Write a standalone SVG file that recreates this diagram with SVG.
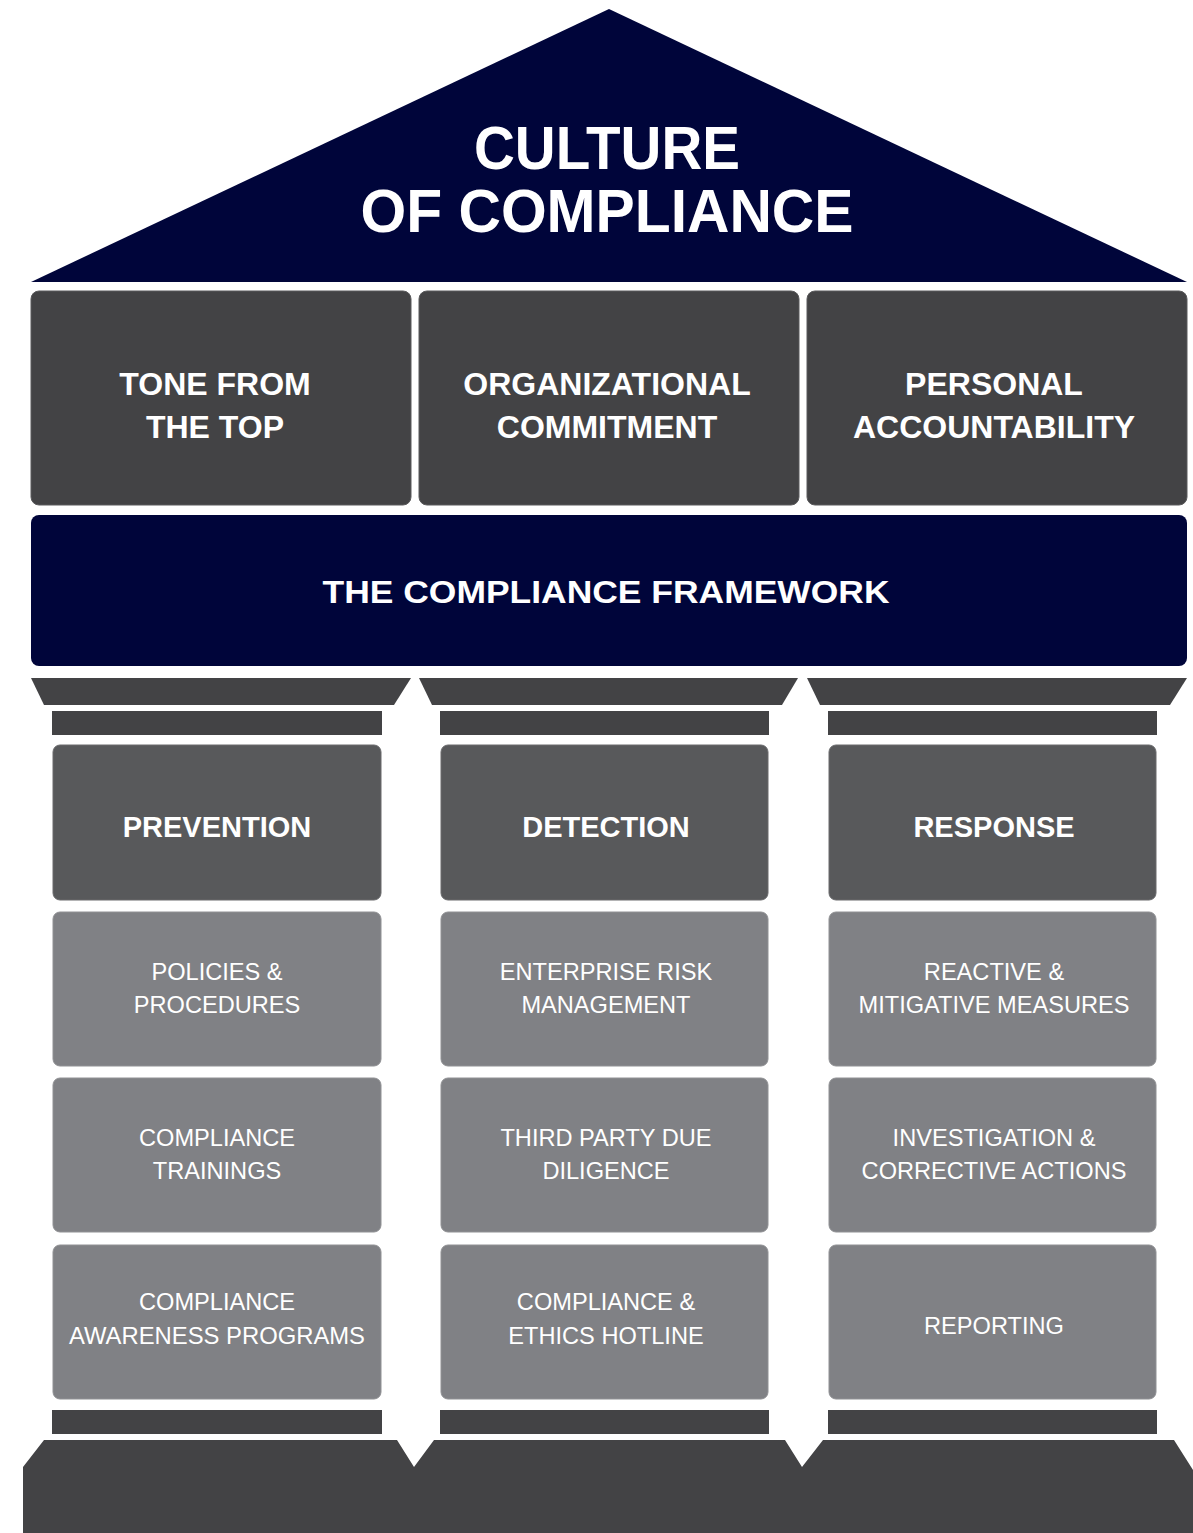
<svg xmlns="http://www.w3.org/2000/svg" width="1193" height="1533" viewBox="0 0 1193 1533">
<style>
.navy{fill:#00053a}
.dark{fill:#434345}
.hdr{fill:#58595b;stroke:#6a6b6d;stroke-width:1}
.lite{fill:#808185;stroke:#909194;stroke-width:1}
.top{fill:#434345;stroke:#5a5a5c;stroke-width:1}
text{font-family:"Liberation Sans",Arial,sans-serif;fill:#ffffff;text-anchor:middle}
.title{font-weight:bold;font-size:62px}
.bold32{font-weight:bold;font-size:32px}
.bold30{font-weight:bold;font-size:29px}
.reg{font-size:23.6px}
</style>
<rect width="1193" height="1533" fill="#ffffff"/>
<g id="roof">
<polygon class="navy" points="609,9 1187,282 31,282"/>
<text class="title" x="607" y="169" textLength="266" lengthAdjust="spacingAndGlyphs">CULTURE</text>
<text class="title" x="607" y="232" textLength="493" lengthAdjust="spacingAndGlyphs">OF COMPLIANCE</text>
</g>
<g id="tone">
<rect class="top" x="31" y="291" width="380" height="214" rx="8"/>
<text class="bold32" x="215" y="395">TONE FROM</text>
<text class="bold32" x="215" y="438">THE TOP</text>
</g>
<g id="org">
<rect class="top" x="419" y="291" width="380" height="214" rx="8"/>
<text class="bold32" x="607" y="395">ORGANIZATIONAL</text>
<text class="bold32" x="607" y="438">COMMITMENT</text>
</g>
<g id="personal">
<rect class="top" x="807" y="291" width="380" height="214" rx="8"/>
<text class="bold32" x="994" y="395">PERSONAL</text>
<text class="bold32" x="994" y="438">ACCOUNTABILITY</text>
</g>
<g id="framework">
<rect class="navy" x="31" y="515" width="1156" height="151" rx="8"/>
<text class="bold32" x="606" y="603" textLength="567" lengthAdjust="spacingAndGlyphs">THE COMPLIANCE FRAMEWORK</text>
</g>
<g id="capitals">
<polygon class="dark" points="31,678 411,678 394,705 44,705"/>
<polygon class="dark" points="419,678 798,678 782,705 432,705"/>
<polygon class="dark" points="807,678 1187,678 1170,705 820,705"/>
<rect class="dark" x="52" y="711" width="330" height="24"/>
<rect class="dark" x="440" y="711" width="329" height="24"/>
<rect class="dark" x="828" y="711" width="329" height="24"/>
</g>
<g id="prevention">
<rect class="hdr" x="53" y="745" width="328" height="155" rx="7"/>
<text class="bold30" x="217" y="837">PREVENTION</text>
</g>
<g id="detection">
<rect class="hdr" x="441" y="745" width="327" height="155" rx="7"/>
<text class="bold30" x="606" y="837">DETECTION</text>
</g>
<g id="response">
<rect class="hdr" x="829" y="745" width="327" height="155" rx="7"/>
<text class="bold30" x="994" y="837">RESPONSE</text>
</g>
<g id="policies">
<rect class="lite" x="53" y="912" width="328" height="154" rx="7"/>
<text class="reg" x="217" y="980">POLICIES &amp;</text>
<text class="reg" x="217" y="1013">PROCEDURES</text>
</g>
<g id="erm">
<rect class="lite" x="441" y="912" width="327" height="154" rx="7"/>
<text class="reg" x="606" y="980">ENTERPRISE RISK</text>
<text class="reg" x="606" y="1013">MANAGEMENT</text>
</g>
<g id="reactive">
<rect class="lite" x="829" y="912" width="327" height="154" rx="7"/>
<text class="reg" x="994" y="980">REACTIVE &amp;</text>
<text class="reg" x="994" y="1013">MITIGATIVE MEASURES</text>
</g>
<g id="trainings">
<rect class="lite" x="53" y="1078" width="328" height="154" rx="7"/>
<text class="reg" x="217" y="1146">COMPLIANCE</text>
<text class="reg" x="217" y="1179">TRAININGS</text>
</g>
<g id="thirdparty">
<rect class="lite" x="441" y="1078" width="327" height="154" rx="7"/>
<text class="reg" x="606" y="1146">THIRD PARTY DUE</text>
<text class="reg" x="606" y="1179">DILIGENCE</text>
</g>
<g id="investigation">
<rect class="lite" x="829" y="1078" width="327" height="154" rx="7"/>
<text class="reg" x="994" y="1146">INVESTIGATION &amp;</text>
<text class="reg" x="994" y="1179">CORRECTIVE ACTIONS</text>
</g>
<g id="awareness">
<rect class="lite" x="53" y="1245" width="328" height="154" rx="7"/>
<text class="reg" x="217" y="1310">COMPLIANCE</text>
<text class="reg" x="217" y="1344" textLength="296" lengthAdjust="spacingAndGlyphs">AWARENESS PROGRAMS</text>
</g>
<g id="hotline">
<rect class="lite" x="441" y="1245" width="327" height="154" rx="7"/>
<text class="reg" x="606" y="1310">COMPLIANCE &amp;</text>
<text class="reg" x="606" y="1344">ETHICS HOTLINE</text>
</g>
<g id="reporting">
<rect class="lite" x="829" y="1245" width="327" height="154" rx="7"/>
<text class="reg" x="994" y="1334">REPORTING</text>
</g>
<g id="base">
<rect class="dark" x="52" y="1410" width="330" height="24"/>
<rect class="dark" x="440" y="1410" width="329" height="24"/>
<rect class="dark" x="828" y="1410" width="329" height="24"/>
<polygon class="dark" points="44,1440 397,1440 414,1467 434,1440 785,1440 802,1467 823,1440 1174,1440 1193,1470 1193,1533 23,1533 23,1467"/>
</g>
<g id="connectors"></g>
</svg>
